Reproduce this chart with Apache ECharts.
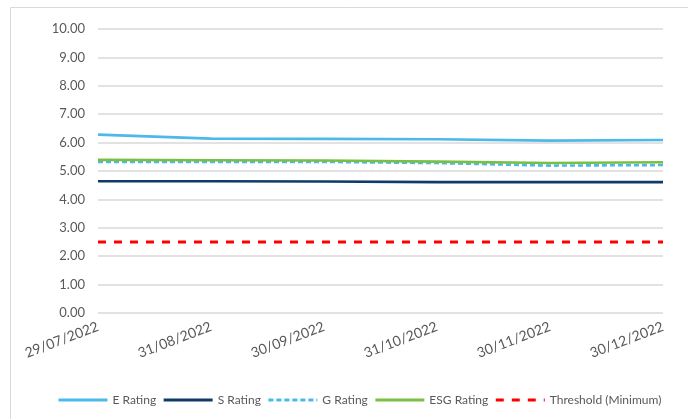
<!DOCTYPE html>
<html>
<head>
<meta charset="utf-8">
<script src="https://cdn.jsdelivr.net/npm/echarts@6/dist/echarts.min.js"></script>
<style>
  html, body { margin: 0; padding: 0; background: #fff; }
  #main { width: 688px; height: 419px; }
</style>
</head>
<body>
<div id="main"></div>
<script>
// data
var dates = ['29/07/2022', '31/08/2022', '30/09/2022', '31/10/2022', '30/11/2022', '30/12/2022'];
var eRating = [6.28, 6.14, 6.13, 6.12, 6.07, 6.09];
var sRating = [4.64, 4.64, 4.63, 4.61, 4.61, 4.61];
var gRating = [5.32, 5.32, 5.32, 5.28, 5.19, 5.21];
var esgRating = [5.39, 5.38, 5.37, 5.33, 5.28, 5.31];
var threshold = [2.5, 2.5, 2.5, 2.5, 2.5, 2.5];

var font = 'Lato, "Open Sans", sans-serif';

var myChart = echarts.init(document.getElementById('main'));

function line(name, data, color, type, width) {
  return {
    name: name,
    type: 'line',
    data: data,
    symbol: 'none',
    lineStyle: { color: color, width: width || 2.6, type: type || 'solid' },
    itemStyle: { color: color }
  };
}

var option = {
  animation: false,
  textStyle: { fontFamily: font },
  graphic: [{
    type: 'rect',
    shape: { x: 10.5, y: 7.5, width: 720, height: 440 },
    style: { fill: 'none', stroke: '#d9d9d9', lineWidth: 1 }
  }],
  grid: { left: 98, right: 25, top: 29, bottom: 106 },
  legend: {
    left: 52,
    top: 389,
    width: 680,
    itemWidth: 49,
    itemHeight: 3,
    itemGap: 6,
    itemStyle: { opacity: 0 },
    lineStyle: { width: 3 },
    textStyle: { color: '#595959', fontSize: 12, fontFamily: font },
    data: ['E Rating', 'S Rating', 'G Rating', 'ESG Rating', 'Threshold (Minimum)']
  },
  xAxis: {
    type: 'category',
    data: dates,
    boundaryGap: false,
    axisLine: { show: false },
    axisTick: { show: false },
    axisLabel: { rotate: 21, color: '#595959', fontSize: 14, margin: 13, interval: 0 }
  },
  yAxis: {
    type: 'value',
    min: 0,
    max: 10,
    interval: 1,
    axisLabel: { color: '#595959', fontSize: 13, margin: 13, formatter: function (v) { return v.toFixed(2); } },
    splitLine: { lineStyle: { color: '#d9d9d9', width: 1.5 } },
    axisLine: { show: false },
    axisTick: { show: false }
  },
  series: [
    line('E Rating', eRating, '#4db8ea'),
    line('S Rating', sRating, '#0f3a6b'),
    line('G Rating', gRating, '#4db8ea', [5, 3]),
    line('ESG Rating', esgRating, '#78c043'),
    line('Threshold (Minimum)', threshold, '#ff0000', [8, 8], 2.8)
  ]
};

myChart.setOption(option);
</script>
</body>
</html>
